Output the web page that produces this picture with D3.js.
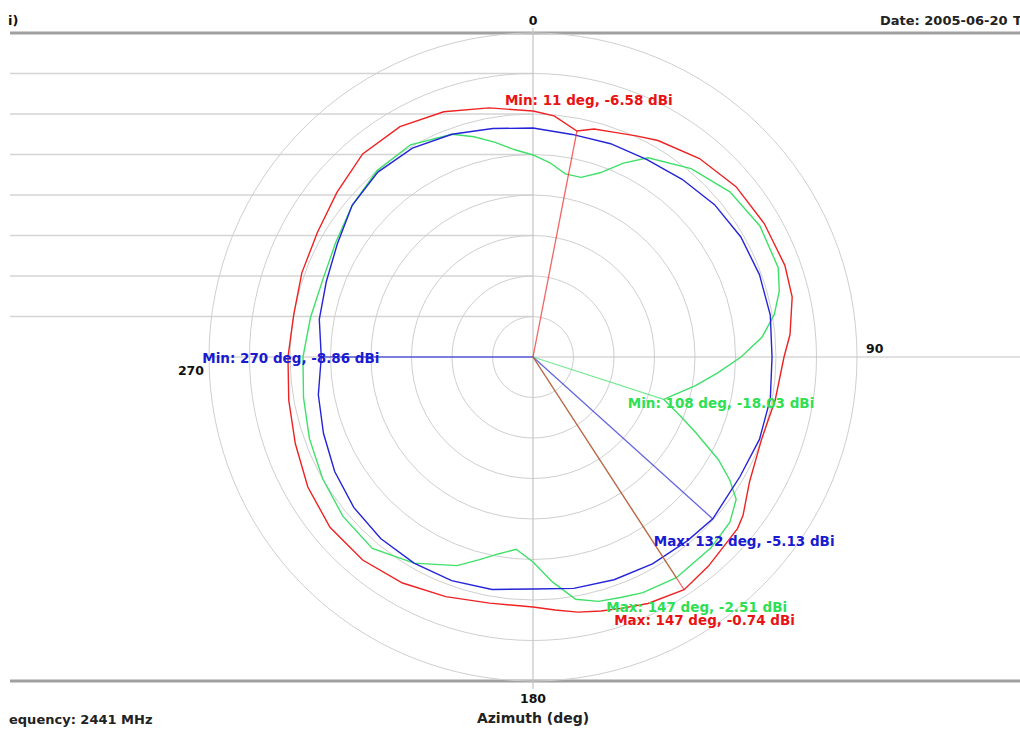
<!DOCTYPE html>
<html>
<head>
<meta charset="utf-8">
<script src="https://cdn.jsdelivr.net/npm/d3@7"></script>
<style>
  body { margin: 0; background: #fff; }
  svg { display: block; }
  text { font-family: "DejaVu Sans", sans-serif; font-weight: bold; }
</style>
</head>
<body>
<div id="chart"></div>
<script>
// azimuth (deg) and gain (dBi)
const redAngles = [0,5,11,15,20,25,30,40,50,60,70,77,85,90,100,110,120,127,130,140,147,155,160,165,170,175,180,190,200,210,220,230,240,250,260,270,280,290,300,310,320,330,340,350];
const redValues = [-4.63,-5.12,-6.58,-5.86,-5.49,-4.88,-4.14,-3.02,-2.28,-2.04,-1.91,-2.16,-3.15,-4.01,-4.63,-5.0,-4.14,-2.53,-2.04,-1.30,-0.74,-1.42,-2.04,-2.53,-3.02,-3.64,-4.14,-4.14,-3.52,-2.78,-2.28,-2.28,-2.90,-3.77,-4.38,-4.75,-5.0,-4.63,-4.26,-3.40,-2.28,-2.16,-2.78,-3.77];

const blueAngles = [0,10,20,30,40,50,60,70,80,90,100,110,120,132,140,150,160,170,180,190,200,210,220,230,240,250,260,270,280,290,300,310,320,330,340,350];
const blueValues = [-6.73,-7.10,-6.98,-6.85,-6.36,-5.74,-5.37,-5.25,-5.25,-5.49,-5.25,-5.25,-5.49,-5.13,-5.37,-5.50,-5.74,-5.99,-6.36,-5.86,-5.62,-5.62,-5.74,-6.11,-6.73,-7.47,-8.09,-8.86,-8.21,-7.84,-7.10,-5.86,-5.20,-5.22,-5.74,-6.36];

const greenAngles = [0,5,10,15,20,25,30,40,50,60,70,75,80,85,90,95,100,105,108,112,115,119,122,125,130,137,147,155,160,165,170,175,180,185,190,195,200,210,220,230,240,250,260,270,280,290,300,310,320,330,340,345,350,355];
const greenValues = [-10.06,-10.93,-12.04,-12.04,-10.80,-8.58,-6.60,-4.63,-3.27,-2.65,-2.78,-3.52,-4.75,-6.60,-9.32,-12.16,-14.63,-16.98,-18.03,-15.25,-12.78,-8.83,-6.36,-4.38,-3.27,-2.78,-2.51,-2.90,-3.40,-3.77,-4.63,-7.10,-9.69,-11.17,-10.31,-9.07,-7.59,-5.62,-4.14,-4.38,-5.0,-5.62,-6.23,-6.60,-7.10,-7.35,-6.85,-5.86,-5.0,-4.75,-5.74,-6.85,-8.09,-9.32];

const ringLevels = [-30,-25,-20,-15,-10,-5,0,5];
const angleTicks = [0,90,180,270];

const markerSeries = ["blue","blue","green","green","red","red"];
const markerKinds  = ["Min","Max","Min","Max","Min","Max"];
const markerAngles = [270,132,108,147,11,147];
const markerValues = [-8.86,-5.13,-18.03,-2.51,-6.58,-0.74];
// label offset from the marker end point (px)
const markerOffsets = [[-119,6],[-59,27],[-36,9],[-70,34],[-72,-26],[-70,35]];

const colors = { red: "#ee2222", blue: "#2424d8", green: "#3fe06a" };
const textColors = { red: "#e81414", blue: "#1a1ad0", green: "#2ee052" };

var width = 1020, height = 729;
var cx = 533, cy = 357, R = 324;

var svg = d3.select("#chart").append("svg")
  .attr("width", width).attr("height", height);

var r = d3.scaleLinear().domain([-35, 5]).range([0, R]);
var a = d3.scaleLinear().domain([0, 360]).range([0, 2 * Math.PI]);

function px(deg, v) { return cx + r(v) * Math.sin(a(deg)); }
function py(deg, v) { return cy - r(v) * Math.cos(a(deg)); }

// horizontal lines on the left at ring levels
svg.append("g").selectAll("line")
  .data(ringLevels.slice(0, -1))
  .enter().append("line")
  .attr("x1", 10).attr("x2", cx)
  .attr("y1", d => cy - r(d)).attr("y2", d => cy - r(d))
  .attr("stroke", "#d4d4d4").attr("stroke-width", 1.5);

// thick frame lines top and bottom
svg.append("g").selectAll("line")
  .data([cy - R, cy + R])
  .enter().append("line")
  .attr("x1", 10).attr("x2", width)
  .attr("y1", d => d).attr("y2", d => d)
  .attr("stroke", "#a0a0a0").attr("stroke-width", 3);

var g = svg.append("g").attr("transform", "translate(" + cx + "," + cy + ")");

// rings
g.selectAll("circle.ring")
  .data(ringLevels)
  .enter().append("circle")
  .attr("class", "ring")
  .attr("r", d => r(d))
  .attr("fill", "none")
  .attr("stroke", "#cfcfcf").attr("stroke-width", 1);

// axes
g.append("line").attr("x1", 0).attr("x2", 0).attr("y1", -R - 5).attr("y2", R + 8)
  .attr("stroke", "#c4c4c4").attr("stroke-width", 1.2);
g.append("line").attr("x1", -R + 2).attr("x2", width - cx).attr("y1", 0).attr("y2", 0)
  .attr("stroke", "#c4c4c4").attr("stroke-width", 1.2);

// angle labels
var tickPos = { 0: [0, -R - 8, "middle"], 90: [R + 9, -4, "start"], 180: [0, R + 22, "middle"], 270: [-R - 5, 18, "end"] };
svg.append("g").selectAll("text")
  .data(angleTicks)
  .enter().append("text")
  .attr("x", d => cx + tickPos[d][0])
  .attr("y", d => cy + tickPos[d][1])
  .attr("text-anchor", d => tickPos[d][2])
  .attr("font-size", 12.5)
  .attr("fill", "#111")
  .text(d => d);

// pattern curves
var series = [
  { key: "green", ang: greenAngles, val: greenValues },
  { key: "blue", ang: blueAngles, val: blueValues },
  { key: "red", ang: redAngles, val: redValues }
];

var radial = d3.lineRadial()
  .angle(d => a(d[0]))
  .radius(d => r(d[1]))
  .curve(d3.curveLinearClosed);

g.selectAll("path.trace")
  .data(series)
  .enter().append("path")
  .attr("class", "trace")
  .attr("d", s => radial(s.ang.map((d, i) => [d, s.val[i]])))
  .attr("fill", "none")
  .attr("stroke", s => colors[s.key])
  .attr("stroke-width", 1.4);

// min / max radial lines
var markers = markerSeries.map((s, i) => ({
  key: s, kind: markerKinds[i], ang: markerAngles[i], val: markerValues[i], off: markerOffsets[i]
}));

svg.append("g").selectAll("line")
  .data(markers)
  .enter().append("line")
  .attr("x1", cx).attr("y1", cy)
  .attr("x2", d => px(d.ang, d.val))
  .attr("y2", d => py(d.ang, d.val))
  .attr("stroke", d => colors[d.key])
  .attr("stroke-opacity", 0.7)
  .attr("stroke-width", 1.3);

var fmt = d3.format(".2f");
svg.append("g").selectAll("text")
  .data(markers)
  .enter().append("text")
  .attr("x", d => px(d.ang, d.val) + d.off[0])
  .attr("y", d => py(d.ang, d.val) + d.off[1])
  .attr("font-size", 13.5)
  .attr("fill", d => textColors[d.key])
  .text(d => d.kind + ": " + d.ang + " deg, " + fmt(d.val).replace("\u2212", "-") + " dBi");

// header / footer texts
svg.append("text").attr("x", 8).attr("y", 25).attr("font-size", 13).attr("fill", "#111").text("i)");
svg.append("text").attr("x", 880).attr("y", 25).attr("font-size", 13).attr("fill", "#222").text("Date: 2005-06-20");
svg.append("text").attr("x", 1013).attr("y", 25).attr("font-size", 13).attr("fill", "#222").text("Time:");
svg.append("text").attr("x", cx).attr("y", 723).attr("text-anchor", "middle")
  .attr("font-size", 14).attr("fill", "#222").text("Azimuth (deg)");
svg.append("text").attr("x", 9).attr("y", 724).attr("font-size", 13).attr("fill", "#222").text("equency: 2441 MHz");

// legend row, cut off by the bottom edge
var legendNames = ["H-pol", "V-pol", "Total"];
svg.append("g").selectAll("text")
  .data(["red", "blue", "green"])
  .enter().append("text")
  .attr("x", (d, i) => 10 + i * 45)
  .attr("y", 739)
  .attr("font-size", 13)
  .attr("fill", d => textColors[d])
  .text((d, i) => legendNames[i]);
</script>
</body>
</html>
